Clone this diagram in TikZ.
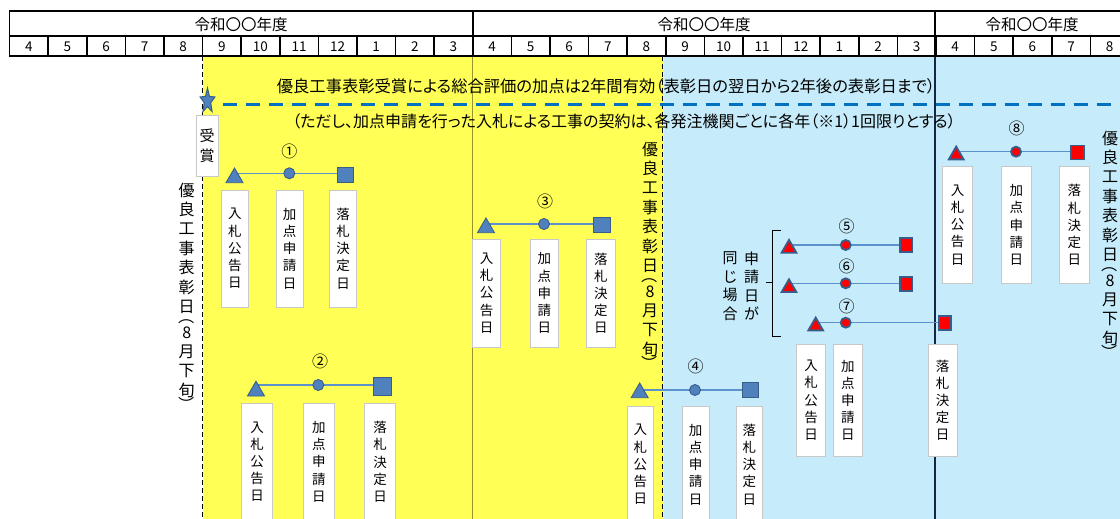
\documentclass[tikz,border=0pt]{standalone}
\usepackage{graphicx}
\usepackage{fontspec}
\setmainfont{Noto Sans CJK JP}
\newfontfamily\pfont[RawFeature=+palt]{Noto Sans CJK JP}
\usetikzlibrary{shapes.geometric}
\pgfdeclarelayer{back}
\pgfdeclarelayer{mid}
\pgfsetlayers{back,mid,main}
\definecolor{yel}{RGB}{255,255,85}
\definecolor{lblue}{RGB}{198,235,250}
\definecolor{shapefill}{RGB}{79,129,189}
\definecolor{shapeline}{RGB}{56,93,138}
\definecolor{conn}{RGB}{91,146,205}
\definecolor{dashblue}{RGB}{0,112,192}
\definecolor{boxgray}{RGB}{200,200,200}
\definecolor{olivel}{RGB}{150,150,40}
\definecolor{navyl}{RGB}{20,40,70}
\newcommand{\vlabel}[3]{%
  \foreach \c/\dy [count=\j] in {優/0,良/19.4,工/38.8,事/58.2,表/77.6,彰/97,日/116.4,{\rotatebox[origin=c]{-90}{（}}/126.5,8/143,月/162,下/181,旬/200,{\rotatebox[origin=c]{-90}{）}}/214.5}{
    \node[vch] (#1-\j) at (#2,#3+\dy) {\c};
  }}
\begin{document}
\begin{tikzpicture}[x=1pt,y=-1pt,
  btri/.style={regular polygon, regular polygon sides=3, minimum size=19.6pt, inner sep=0pt, draw=shapeline, fill=shapefill, line width=0.9pt},
  bcir/.style={circle, minimum size=11pt, inner sep=0pt, draw=shapeline, fill=shapefill, line width=0.9pt},
  bsq/.style={rectangle, minimum width=16.5pt, minimum height=15.5pt, inner sep=0pt, draw=shapeline, fill=shapefill, line width=0.9pt},
  rtri/.style={regular polygon, regular polygon sides=3, minimum size=17pt, inner sep=0pt, draw=shapeline, fill=red, line width=1.8pt},
  rcir/.style={circle, minimum size=10pt, inner sep=0pt, draw=shapeline, fill=red, line width=1.8pt},
  rsq/.style={rectangle, minimum width=12.5pt, minimum height=14pt, inner sep=0pt, draw=shapeline, fill=red, line width=1.8pt},
  conn/.style={draw=conn, line width=1.4pt},
  num/.style={inner sep=0pt, font=\fontsize{16}{16}\selectfont},
  lbox/.style={draw=boxgray, fill=white, line width=0.8pt, inner sep=0pt, align=center, font=\fontsize{13.5}{17.2}\selectfont},
  vch/.style={inner sep=0pt, font=\fontsize{16}{16}\selectfont},
  vdash/.style={draw=black, line width=1.4pt, dash pattern=on 5pt off 3pt},
  grid/.style={draw=black, line width=1.6pt}
]
\useasboundingbox (0,0) rectangle (1120,519);
\clip (0,0) rectangle (1120,519);
% body backgrounds
\begin{pgfonlayer}{back}
\fill[white] (0,0) rectangle (1120,519);
\fill[yel] (202.5,56) rectangle (663.5,521);
\fill[lblue] (663.5,56) rectangle (1130,521);
\draw[olivel, line width=0.9pt] (472.7,56) -- (472.7,521);
\draw[navyl, line width=1.5pt] (935,56) -- (935,521);
\draw[vdash] (202.7,56) -- (202.7,521);
\draw[vdash] (662.3,56) -- (662.3,521);
\end{pgfonlayer}
% header
\draw[grid] (9.5,11.3) rectangle (1128.9,56);
\draw[grid] (9.5,36) -- (1128.9,36);
\draw[grid, line width=1.9pt] (472.7,11.3) -- (472.7,56);
\draw[grid, line width=1.9pt] (935,11.3) -- (935,56);
\foreach \m [count=\i from 0] in {4,5,6,7,8,9,10,11,12,1,2,3,4,5,6,7,8,9,10,11,12,1,2,3,4,5,6,7,8}{
  \pgfmathsetmacro{\xl}{9.5+38.6*\i}
  \pgfmathsetmacro{\xc}{9.5+38.6*\i+19.3}
  \draw[grid] (\xl,36) -- (\xl,56);
  \node[inner sep=0pt, font=\fontsize{13.5}{13.5}\selectfont] (m\i) at (\xc,47) {\m};
}
\node[inner sep=0pt, font=\fontsize{15.5}{15.5}\selectfont] (y1) at (241,24.5) {令和〇〇年度};
\node[inner sep=0pt, font=\fontsize{15.5}{15.5}\selectfont] (y2) at (704,24.5) {令和〇〇年度};
\node[inner sep=0pt, font=\fontsize{15.5}{15.5}\selectfont] (y3) at (1032,24.5) {令和〇〇年度};
% long texts
\node[inner sep=0pt, font=\pfont\fontsize{16.3}{16}\selectfont] (line1) at (606,86) {優良工事表彰受賞による総合評価の加点は2年間有効（表彰日の翌日から2年後の表彰日まで）};
\node[inner sep=0pt, font=\pfont\fontsize{16}{16}\selectfont] (line2) at (624,121) {（ただし、加点申請を行った入札による工事の契約は、各発注機関ごとに各年（※1）1回限りとする）};
% star and dashed line
\begin{scope}[shift={(207.5,101)}, xscale=0.6, transform shape]
\node[star, star points=5, star point ratio=2.3, minimum size=26pt, inner sep=0pt, fill=shapefill, draw=shapeline, line width=1pt] (star) at (0,0) {};
\end{scope}
\coordinate (dashend) at (1125,105);
\draw[dashblue, line width=3pt, dash pattern=on 14pt off 9pt] (star.center) ++(15,4) -- (dashend);
\node[draw=boxgray, fill=white, line width=0.8pt, minimum width=22pt, minimum height=61pt, inner sep=0pt, align=center, font=\fontsize{15}{20}\selectfont] (award) at (207.2,145.5) {受\\賞};
% vertical labels
\vlabel{va}{186.7}{190}
\vlabel{vb}{650}{149}
\vlabel{vc}{1110}{138}
% group 1
\node[btri] (t1) at (234.5,177.8) {};
\node[bcir] (c1) at (289.3,173.3) {};
\node[bsq] (s1) at (345.3,174.7) {};
\node[num] (n1) at (289.3,151.7) {①};
\node[lbox, minimum width=27pt, minimum height=117pt] (a1) at (234.8,248.5) {入\\札\\公\\告\\日};
\node[lbox, minimum width=27pt, minimum height=117pt] (b1) at (289.7,248.5) {加\\点\\申\\請\\日};
\node[lbox, minimum width=27pt, minimum height=117pt] (d1) at (343.2,248.5) {落\\札\\決\\定\\日};
% group 2
\node[btri] (t2) at (256,391.1) {};
\node[bcir] (c2) at (318.3,385) {};
\node[bsq, minimum width=17.5pt, minimum height=18pt] (s2) at (382.2,386.3) {};
\node[num] (n2) at (320,361.7) {②};
\node[lbox, minimum width=31pt, minimum height=117pt] (a2) at (257.2,461.8) {入\\札\\公\\告\\日};
\node[lbox, minimum width=31pt, minimum height=117pt] (b2) at (318.8,461.8) {加\\点\\申\\請\\日};
\node[lbox, minimum width=31pt, minimum height=117pt] (d2) at (380,461.8) {落\\札\\決\\定\\日};
% group 3
\node[btri] (t3) at (486,227.8) {};
\node[bcir] (c3) at (544,224) {};
\node[bsq] (s3) at (601.7,224.7) {};
\node[num] (n3) at (545,201.7) {③};
\node[lbox, minimum width=28.5pt, minimum height=107.7pt] (a3) at (486.5,293.2) {入\\札\\公\\告\\日};
\node[lbox, minimum width=28.5pt, minimum height=107.7pt] (b3) at (544.3,293.2) {加\\点\\申\\請\\日};
\node[lbox, minimum width=28.5pt, minimum height=107.7pt] (d3) at (600.8,293.2) {落\\札\\決\\定\\日};
% group 4
\node[btri] (t4) at (639.7,392.8) {};
\node[bcir] (c4) at (695,390) {};
\node[bsq] (s4) at (750.5,390) {};
\node[num] (n4) at (695.7,366) {④};
\node[lbox, minimum width=26.5pt, minimum height=117pt] (a4) at (640.3,464.5) {入\\札\\公\\告\\日};
\node[lbox, minimum width=26.5pt, minimum height=117pt] (b4) at (695.7,464.5) {加\\点\\申\\請\\日};
\node[lbox, minimum width=26.5pt, minimum height=117pt] (d4) at (749.3,464.5) {落\\札\\決\\定\\日};
% groups 5-7
\node[rtri] (t5) at (789,248.4) {};
\node[rcir] (c5) at (845.7,245) {};
\node[rsq] (s5) at (906.2,245.3) {};
\node[num] (n5) at (846.7,226) {⑤};
\node[rtri] (t6) at (789,287.8) {};
\node[rcir] (c6) at (845.7,283.3) {};
\node[rsq] (s6) at (906.2,284.3) {};
\node[num] (n6) at (846.7,266.7) {⑥};
\node[rtri] (t7) at (815.7,326.1) {};
\node[rcir] (c7) at (845.7,322.7) {};
\node[rsq] (s7) at (945,323) {};
\node[num] (n7) at (846.7,306.7) {⑦};
\node[lbox, minimum width=29pt, minimum height=112.7pt] (a7) at (811.2,400.3) {入\\札\\公\\告\\日};
\node[lbox, minimum width=29pt, minimum height=112.7pt] (b7) at (847.8,400.3) {加\\点\\申\\請\\日};
\node[lbox, minimum width=29pt, minimum height=112.7pt] (d7) at (942.7,400.3) {落\\札\\決\\定\\日};
\node[inner sep=0pt, align=center, font=\fontsize{15}{18.5}\selectfont] (same1) at (751.7,286) {申\\請\\日\\が};
\node[inner sep=0pt, align=center, font=\fontsize{15}{18.5}\selectfont] (same2) at (730,286) {同\\じ\\場\\合};
\draw[black, line width=1pt] (781,230.7) -- (772.7,230.7) -- (772.7,336) -- (781,336);
\draw[black, line width=1pt] (772.7,282.7) -- (766,282.7);
% group 8
\node[rtri] (t8) at (956.2,155.1) {};
\node[rcir] (c8) at (1016,151.7) {};
\node[rsq] (s8) at (1077.5,152.5) {};
\node[num] (n8) at (1016.7,128.3) {⑧};
\node[lbox, minimum width=30pt, minimum height=116.7pt] (a8) at (957.7,225) {入\\札\\公\\告\\日};
\node[lbox, minimum width=30pt, minimum height=116.7pt] (b8) at (1016.3,225) {加\\点\\申\\請\\日};
\node[lbox, minimum width=30pt, minimum height=116.7pt] (d8) at (1074.3,225) {落\\札\\決\\定\\日};
% connectors
\begin{pgfonlayer}{mid}
\foreach \k in {1,...,8}{
  \draw[conn] (t\k.center |- c\k.center) -- (s\k.center |- c\k.center);
}
\end{pgfonlayer}
\end{tikzpicture}
\end{document}
